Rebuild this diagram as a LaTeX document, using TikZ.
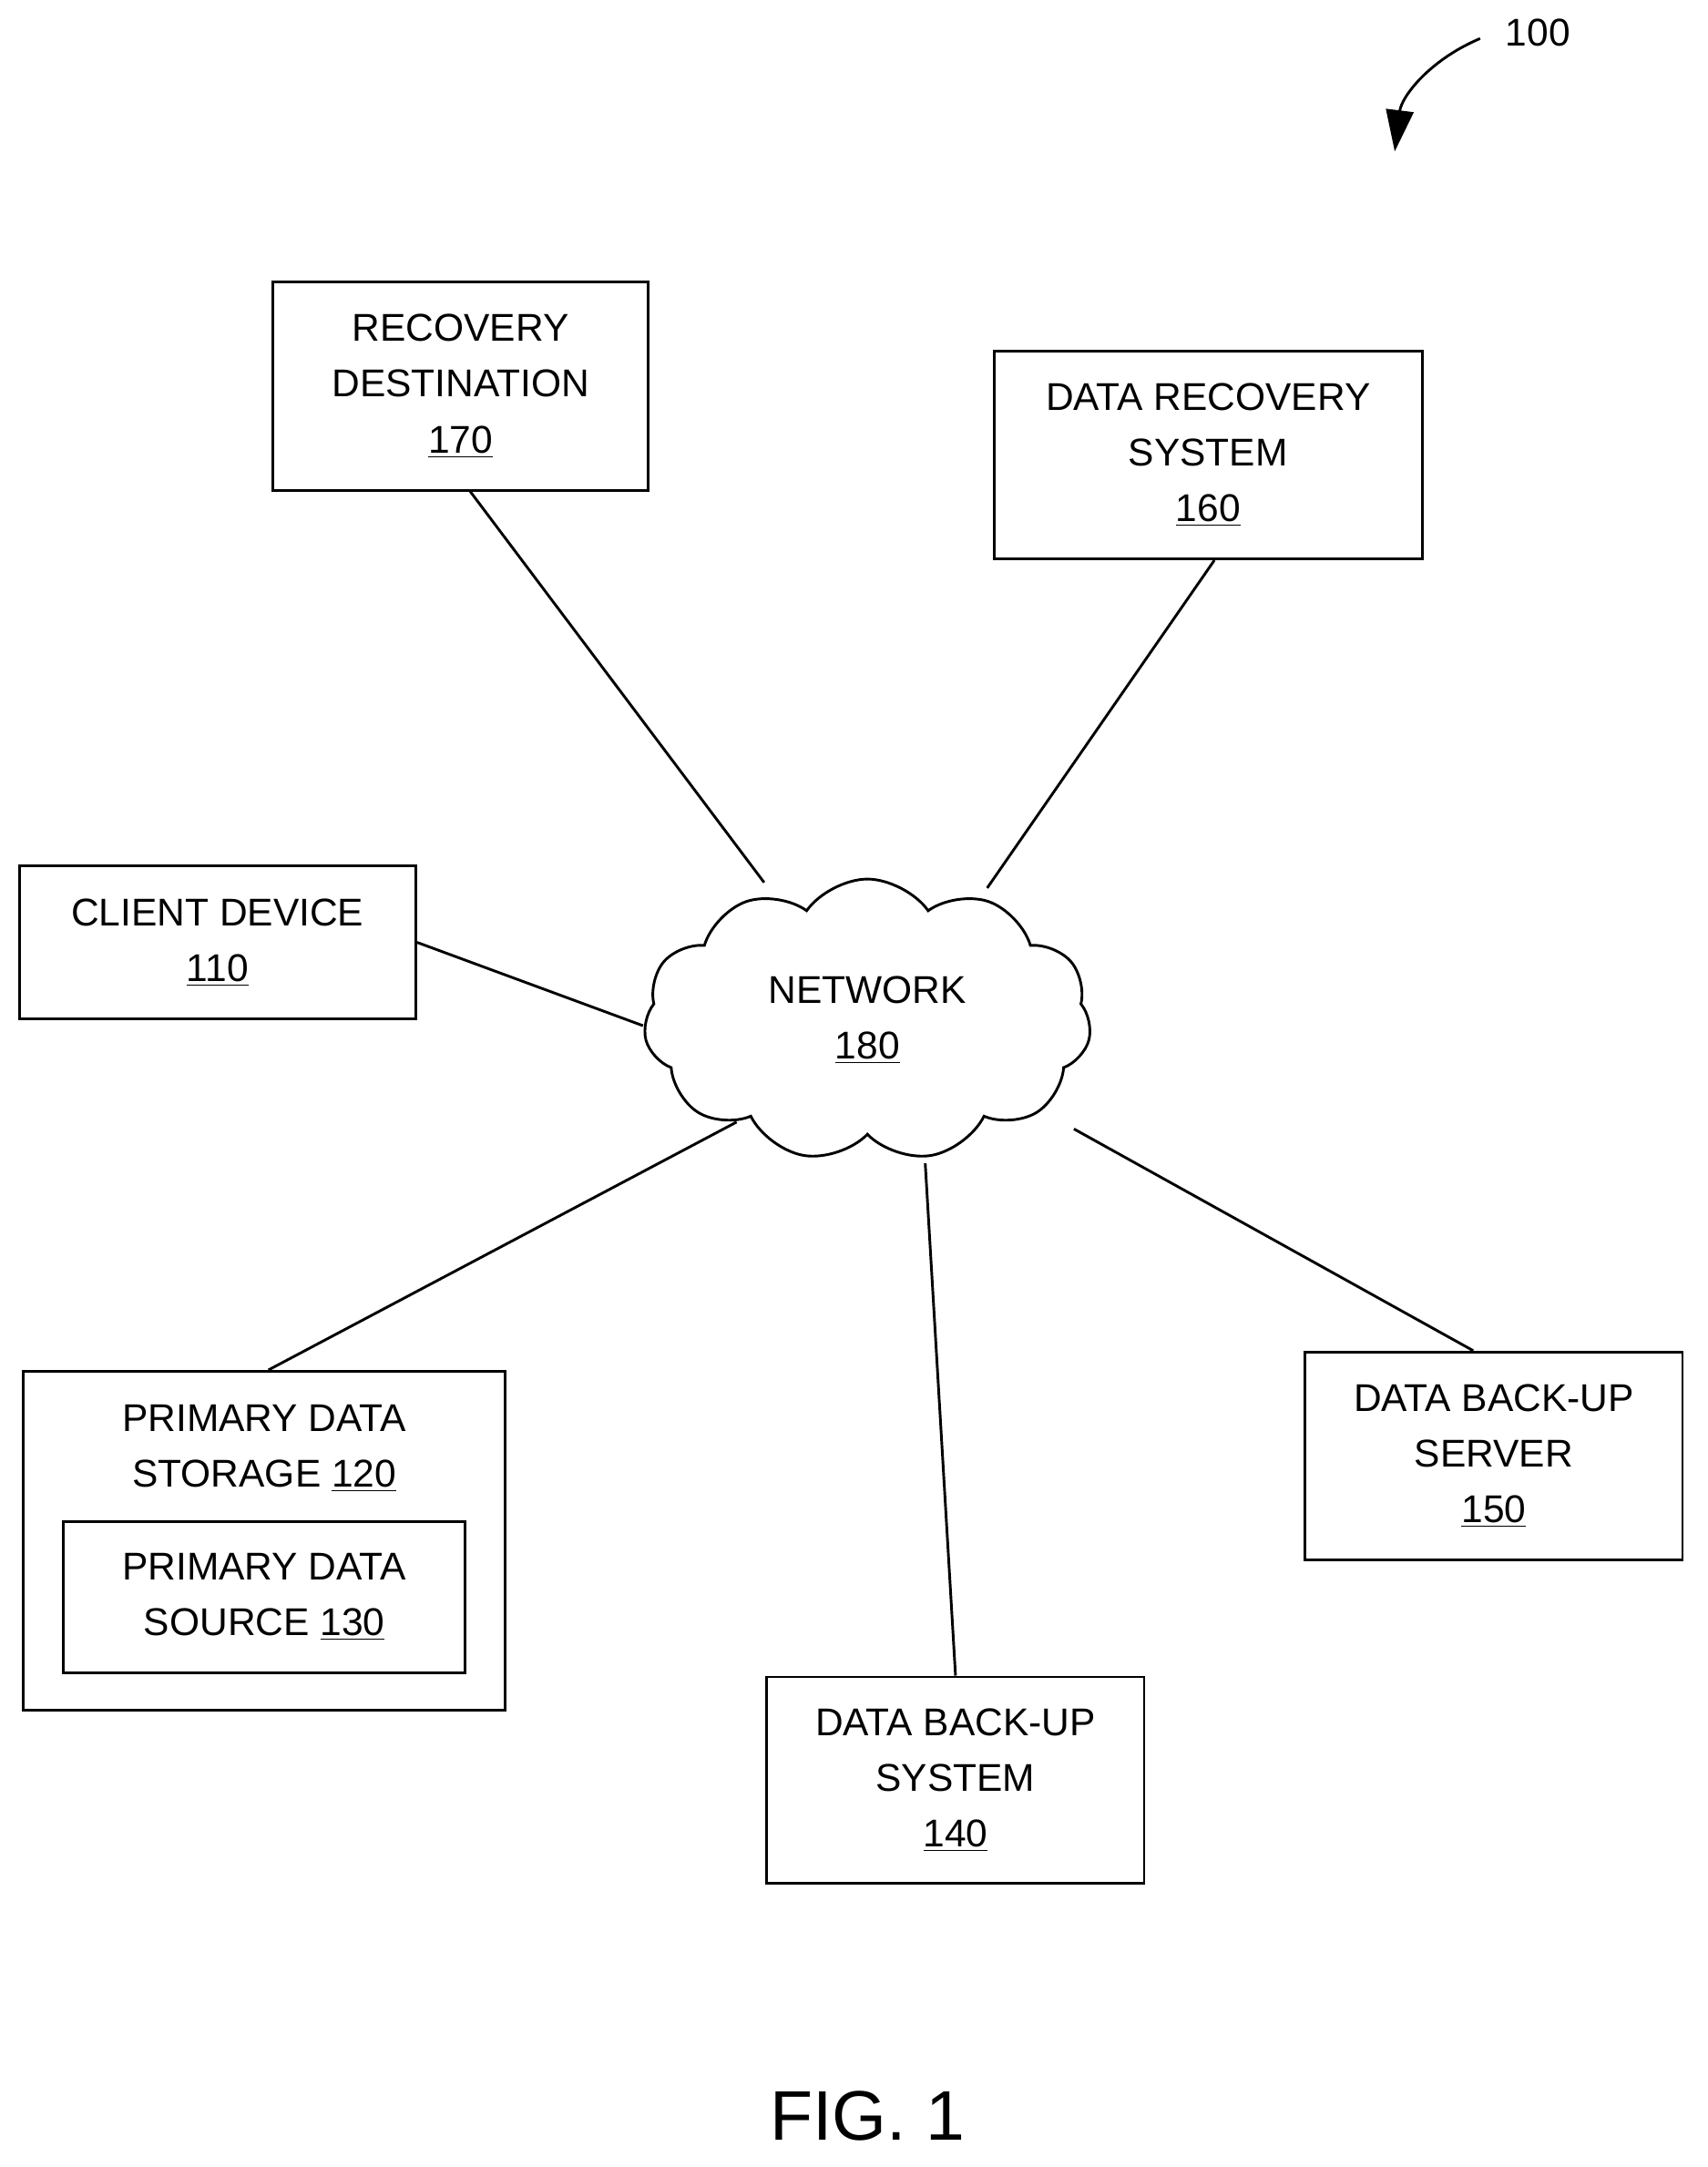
\documentclass[tikz,border=0pt]{standalone}
\usepackage{fontspec}
\setmainfont{Liberation Sans}
\usetikzlibrary{arrows.meta,shapes.symbols,positioning}

\begin{document}
\begin{tikzpicture}[
    x = 0.02cm, y = -0.02cm, % pixel-like units
    line width = 1.1pt,
    font = \fontsize{16}{23}\selectfont
    ]

    \tikzset{box/.style={
    draw = black,
    align = center,
    inner sep = 0pt
    }}
    \useasboundingbox (0,0) rectangle (1240,1574);

    \node[box,minimum width=5.46cm,minimum height=3.02cm] (rd) at (334.5,280.5) {RECOVERY\\DESTINATION\\\underline{170}};
    \node[box,minimum width=6.22cm,minimum height=3.02cm] (drs) at (877.5,330.5) {DATA RECOVERY\\SYSTEM\\\underline{160}};
    \node[box,minimum width=5.76cm,minimum height=2.22cm] (cd) at (158,684.5) {CLIENT DEVICE\\\underline{110}};
    \node[box,minimum width=7cm,minimum height=4.92cm] (pds) at (192,1119) {};
    \node[align=center] (pdslbl) at (192,1052) {PRIMARY DATA\\STORAGE \underline{120}};
    \node[box,minimum width=5.84cm,minimum height=2.2cm] (src) at (192,1160) {PRIMARY DATA\\SOURCE \underline{130}};
    \node[box,minimum width=5.48cm,minimum height=3cm] (dbs) at (694,1293) {DATA BACK-UP\\SYSTEM\\\underline{140}};
    \node[box,minimum width=5.48cm,minimum height=3.02cm] (dbsrv) at (1085,1057.5) {DATA BACK-UP\\SERVER\\\underline{150}};
    \node[cloud,draw,cloud puffs=11,cloud puff arc=110,aspect=1.5,
          minimum width=6.5cm,minimum height=4.1cm,align=center] (net) at (630,741) {NETWORK\\\underline{180}};

    % points on the cloud
    \coordinate (n1) at (467,745);
    \coordinate (n2) at (555,641);
    \coordinate (n3) at (717,645);
    \coordinate (n4) at (535,815);
    \coordinate (n5) at (672,845);
    \coordinate (n6) at (780,820);

    \draw (cd.east) ++(0,0) coordinate (c1) -- (n1);
    \draw ([xshift=0.14cm]rd.south) -- (n2);
    \draw ([xshift=0.09cm]drs.south) -- (n3);
    \draw ([xshift=0.06cm]pds.north) -- (n4);
    \draw (dbs.north) -- (n5);
    \draw ([xshift=-0.3cm]dbsrv.north) -- (n6);

    \node (ref) at (1117,24) {100};
    \coordinate (a0) at (1075,28);
    \draw[-{Triangle[length=0.6cm,width=0.4cm]}] (a0) to[bend right=30] (1013,110);

    \node[font=\fontsize{29}{34}\selectfont] (fig) at (630,1537) {FIG. 1};
\end{tikzpicture}
\end{document}
